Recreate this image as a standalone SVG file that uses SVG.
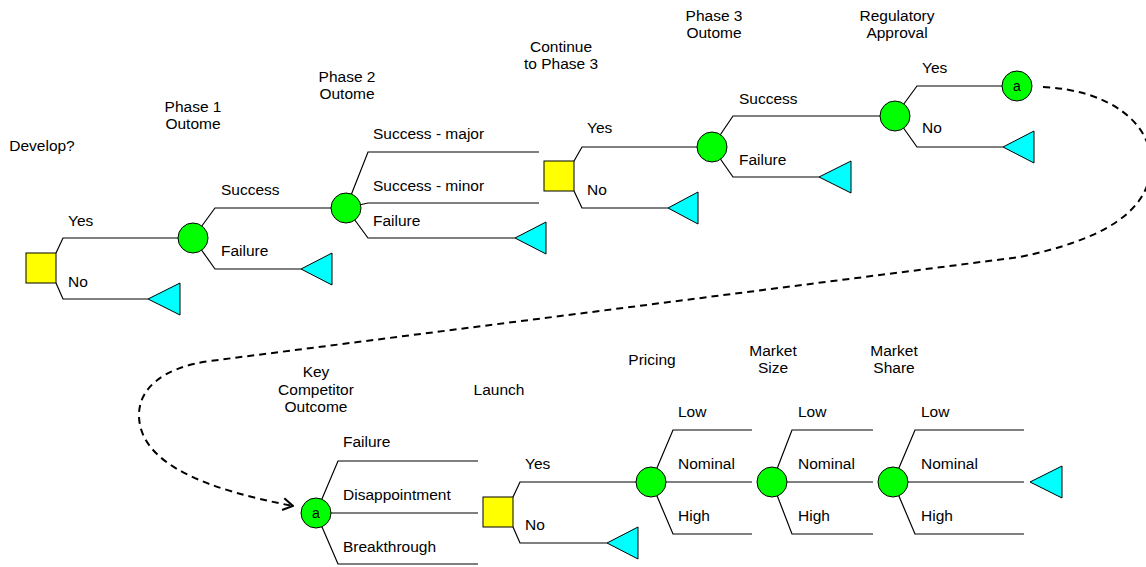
<svg xmlns="http://www.w3.org/2000/svg" width="1146" height="567" viewBox="0 0 1146 567">
  <defs>
    <style>
      .br { fill: none; stroke: #000; stroke-width: 1.2; }
      .dec { fill: #ffff00; stroke: #000; stroke-width: 1; }
      .chn { fill: #00ff00; stroke: #000; stroke-width: 1; }
      .end { fill: #00ffff; stroke: #000; stroke-width: 1; }
      .lnk { fill: none; stroke: #000; stroke-width: 2; stroke-dasharray: 7 5; }
      text { font-family: "Liberation Sans", Arial, sans-serif; font-size: 15.5px; fill: #000; }
      .hd { text-anchor: middle; }
      .ref { text-anchor: middle; font-size: 14px; }
    </style>
    <marker id="openArrow" viewBox="0 0 12 14" refX="11" refY="7" markerWidth="12" markerHeight="14" markerUnits="userSpaceOnUse" orient="auto">
      <path d="M1,1 L11,7 L1,13" fill="none" stroke="#000" stroke-width="2"/>
    </marker>
  </defs>

  <rect width="1146" height="567" fill="#fff"/>

  <!-- branches and the off-page link -->
  <g id="connectors">
    <!-- Develop? -->
    <path class="br" d="M56,253 L63,238 L178,238"/>
    <path class="br" d="M56,283 L63,299 L148,299"/>
    <!-- Phase 1 -->
    <path class="br" d="M193,238 L215,208 L331,208"/>
    <path class="br" d="M193,238 L215,269 L301,269"/>
    <!-- Phase 2 -->
    <path class="br" d="M346,208 L368,152 L539,152"/>
    <path class="br" d="M346,208 L368,203 L539,203"/>
    <path class="br" d="M346,208 L368,238 L515,238"/>
    <!-- Continue to Phase 3 -->
    <path class="br" d="M574,161 L582,147 L697,147"/>
    <path class="br" d="M574,191 L582,208 L668,208"/>
    <!-- Phase 3 -->
    <path class="br" d="M712,147 L733,116 L880,116"/>
    <path class="br" d="M712,147 L733,177 L819,177"/>
    <!-- Regulatory approval -->
    <path class="br" d="M895,116 L917,86 L1002,86"/>
    <path class="br" d="M895,116 L917,147 L1003,147"/>
    <!-- Key competitor -->
    <path class="br" d="M316,513 L338,461 L478,461"/>
    <path class="br" d="M316,513 L478,513"/>
    <path class="br" d="M316,513 L338,564 L478,564"/>
    <!-- Launch -->
    <path class="br" d="M513,497 L520,482 L636,482"/>
    <path class="br" d="M513,527 L520,543 L607,543"/>
    <!-- Pricing -->
    <path class="br" d="M651,482 L673,430 L752,430"/>
    <path class="br" d="M651,482 L752,482"/>
    <path class="br" d="M651,482 L673,534 L752,534"/>
    <!-- Market size -->
    <path class="br" d="M772,482 L792,430 L873,430"/>
    <path class="br" d="M772,482 L873,482"/>
    <path class="br" d="M772,482 L792,534 L873,534"/>
    <!-- Market share -->
    <path class="br" d="M893,482 L915,430 L1024,430"/>
    <path class="br" d="M893,482 L1024,482"/>
    <path class="br" d="M893,482 L915,534 L1024,534"/>
    <!-- link a -> a -->
    <path class="lnk" marker-end="url(#openArrow)" d="M1043,87 C1108,90 1152,122 1151,165 C1150,212 1102,240 1020,257 L210,361 C160,368 139,390 139,415 C139,465 210,490 293,506"/>
  </g>

  <!-- column headings -->
  <g id="headings">
    <text class="hd" x="42" y="151">Develop?</text>
    <text class="hd" x="193" y="112">Phase 1</text>
    <text class="hd" x="193" y="129">Outome</text>
    <text class="hd" x="347" y="82">Phase 2</text>
    <text class="hd" x="347" y="99">Outome</text>
    <text class="hd" x="561" y="52">Continue</text>
    <text class="hd" x="561" y="69">to Phase 3</text>
    <text class="hd" x="714" y="21">Phase 3</text>
    <text class="hd" x="714" y="38">Outome</text>
    <text class="hd" x="897" y="21">Regulatory</text>
    <text class="hd" x="897" y="38">Approval</text>
    <text class="hd" x="316" y="377">Key</text>
    <text class="hd" x="316" y="395">Competitor</text>
    <text class="hd" x="316" y="412">Outcome</text>
    <text class="hd" x="499" y="395">Launch</text>
    <text class="hd" x="652" y="365">Pricing</text>
    <text class="hd" x="773" y="356">Market</text>
    <text class="hd" x="773" y="373">Size</text>
    <text class="hd" x="894" y="356">Market</text>
    <text class="hd" x="894" y="373">Share</text>
  </g>

  <!-- decision: Develop? -->
  <g id="develop">
    <rect class="dec" x="26" y="253" width="30" height="30"/>
    <text x="68" y="226">Yes</text>
    <text x="68" y="287">No</text>
  </g>
  <g id="develop-no">
    <polygon class="end" points="148,299 180,283 180,315"/>
  </g>

  <!-- chance: Phase 1 -->
  <g id="phase1">
    <circle class="chn" cx="193" cy="238" r="15"/>
    <text x="221" y="195">Success</text>
    <text x="221" y="256">Failure</text>
  </g>
  <g id="phase1-fail">
    <polygon class="end" points="301,269 332,253 332,285"/>
  </g>

  <!-- chance: Phase 2 -->
  <g id="phase2">
    <circle class="chn" cx="346" cy="208" r="15"/>
    <text x="373" y="139">Success - major</text>
    <text x="373" y="191">Success - minor</text>
    <text x="373" y="226">Failure</text>
  </g>
  <g id="phase2-fail">
    <polygon class="end" points="515,238 546,222 546,254"/>
  </g>

  <!-- decision: Continue to Phase 3 -->
  <g id="continue">
    <rect class="dec" x="544" y="161" width="30" height="30"/>
    <text x="587" y="133">Yes</text>
    <text x="587" y="195">No</text>
  </g>
  <g id="continue-no">
    <polygon class="end" points="668,208 698,192 698,224"/>
  </g>

  <!-- chance: Phase 3 -->
  <g id="phase3">
    <circle class="chn" cx="712" cy="147" r="15"/>
    <text x="739" y="104">Success</text>
    <text x="739" y="165">Failure</text>
  </g>
  <g id="phase3-fail">
    <polygon class="end" points="819,177 851,161 851,193"/>
  </g>

  <!-- chance: Regulatory approval -->
  <g id="approval">
    <circle class="chn" cx="895" cy="116" r="15"/>
    <text x="922" y="73">Yes</text>
    <text x="922" y="133">No</text>
  </g>
  <g id="approval-no">
    <polygon class="end" points="1003,147 1034,131 1034,163"/>
  </g>

  <!-- link out -->
  <g id="link-a-out">
    <circle class="chn" cx="1017" cy="86" r="15"/>
    <text class="ref" x="1017" y="91">a</text>
  </g>

  <!-- link in / chance: Key competitor outcome -->
  <g id="competitor">
    <circle class="chn" cx="316" cy="513" r="15"/>
    <text class="ref" x="316" y="518">a</text>
    <text x="343" y="447">Failure</text>
    <text x="343" y="500">Disappointment</text>
    <text x="343" y="552">Breakthrough</text>
  </g>

  <!-- decision: Launch -->
  <g id="launch">
    <rect class="dec" x="483" y="497" width="30" height="30"/>
    <text x="525" y="469">Yes</text>
    <text x="525" y="530">No</text>
  </g>
  <g id="launch-no">
    <polygon class="end" points="607,543 638,527 638,559"/>
  </g>

  <!-- chance: Pricing -->
  <g id="pricing">
    <circle class="chn" cx="651" cy="482" r="15"/>
    <text x="678" y="417">Low</text>
    <text x="678" y="469">Nominal</text>
    <text x="678" y="521">High</text>
  </g>

  <!-- chance: Market size -->
  <g id="market-size">
    <circle class="chn" cx="772" cy="482" r="15"/>
    <text x="798" y="417">Low</text>
    <text x="798" y="469">Nominal</text>
    <text x="798" y="521">High</text>
  </g>

  <!-- chance: Market share -->
  <g id="market-share">
    <circle class="chn" cx="893" cy="482" r="15"/>
    <text x="921" y="417">Low</text>
    <text x="921" y="469">Nominal</text>
    <text x="921" y="521">High</text>
  </g>
  <g id="payoff">
    <polygon class="end" points="1030,482 1062,466 1062,498"/>
  </g>
</svg>
